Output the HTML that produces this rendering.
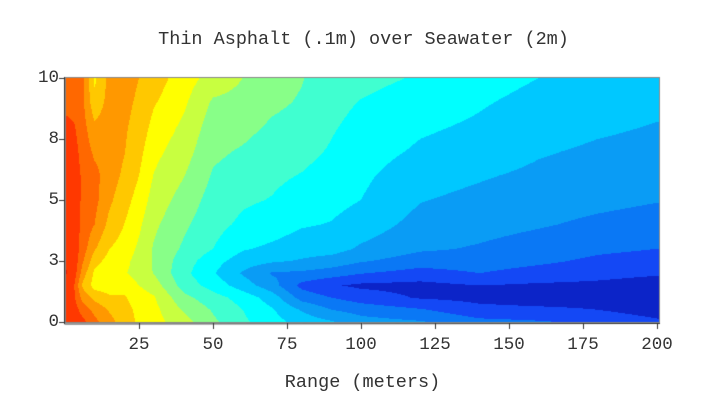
<!DOCTYPE html>
<html><head><meta charset="utf-8">
<style>
html,body{margin:0;padding:0;background:#fff;width:707px;height:408px;overflow:hidden}
#wrap{position:relative;width:707px;height:408px;font-family:"Liberation Mono",monospace;color:#333}
.t{position:absolute;white-space:nowrap;line-height:1}
canvas{position:absolute;left:0;top:0}
</style></head>
<body>
<div id="wrap">
<canvas id="cv" width="707" height="408"></canvas>
<div class="t" style="left:0;width:727px;text-align:center;top:31px;font-size:18.5px">Thin Asphalt (.1m) over Seawater (2m)</div>
<div class="t" style="left:0;width:725px;text-align:center;top:374px;font-size:18.5px">Range (meters)</div>
<div id="labels"></div>
</div>
<script>
const xTicks=[25,50,75,100,125,150,175,200];
const yTicks=[0,2.5,5,7.5,10];
const yTickLabels=["0","3","5","8","10"];
const gridX=[0,3,6,10,15,20,25,30,40,50,60,70,80,90,100,120,140,160,180,200];
const gridY=[0,0.5,1,1.5,2,2.5,3,4,5,6,7,8,9,10];
const gridVals=[
[13.4,13.5,13.3,12.3,11.3,10.6,9.8,9.4,8.4,7.2,6.2,5.4,4.6,4.1,3.4,3.1,2.3,2.1,1.8,1.2],
[13.6,13.5,12.6,11.7,10.9,10.4,9.7,9.3,7.9,6.9,6.0,5.1,3.9,3.0,2.6,2.1,1.3,1.2,1.0,0.5],
[13.8,13.2,11.6,10.7,10.2,10.1,9.5,9.1,7.3,6.4,5.6,4.5,2.6,2.0,1.5,0.9,0.7,0.5,0.6,0.4],
[14.0,13.1,10.8,9.6,9.4,9.6,9.0,8.5,6.6,5.6,4.5,3.4,1.7,1.1,0.8,0.7,1.0,0.85,0.8,0.6],
[14.1,13.6,11.5,9.8,9.3,9.1,8.6,7.95,6.3,5.1,3.9,2.9,2.8,2.5,2.05,1.6,2.0,1.6,1.3,1.1],
[14.0,13.7,12.1,10.4,9.6,9.3,8.6,7.9,6.5,5.4,4.5,4.15,3.9,3.6,3.1,2.5,2.5,2.2,1.8,1.6],
[13.9,13.7,12.5,11.1,10.0,9.6,8.8,7.9,6.85,6.0,5.1,4.8,4.45,4.4,3.85,3.15,2.9,2.55,2.2,2.0],
[13.8,13.6,12.7,12.0,10.7,10.0,9.2,8.2,7.2,6.35,5.8,5.5,5.1,4.95,4.55,3.65,3.35,3.1,2.8,2.6],
[13.7,13.6,12.8,12.3,11.2,10.4,9.6,8.6,7.6,6.6,6.15,5.95,5.55,5.3,5.0,4.05,3.75,3.45,3.25,3.05],
[13.6,13.6,12.8,12.3,11.5,10.8,10.0,8.95,8.05,6.9,6.55,6.2,5.95,5.6,5.2,4.4,4.1,3.8,3.6,3.4],
[13.5,13.4,12.6,11.8,11.6,11.05,10.3,9.3,8.45,7.2,6.9,6.5,6.3,5.9,5.45,4.85,4.55,4.1,3.85,3.7],
[13.3,13.1,12.4,11.2,11.6,11.15,10.6,9.7,8.8,7.5,7.3,6.85,6.65,6.1,5.7,5.15,4.85,4.45,4.15,3.95],
[12.7,12.6,12.2,10.3,11.4,11.3,10.8,10.1,9.2,7.85,7.7,7.2,6.9,6.3,5.95,5.5,5.1,4.7,4.35,4.2],
[12.5,12.4,12.2,9.8,11.3,11.5,11.0,10.5,9.5,8.6,8.0,7.45,7.05,6.5,6.3,5.9,5.4,5.0,4.6,4.4]
];
const levelColors=["#0c24c8","#1448f5","#0a78f5","#0a9cf5","#00c8ff","#00ffff","#40ffd0","#88ff88","#c8ff40","#ffff00","#ffc800","#ff9800","#ff6800","#ff3800","#e81800"];

const L=65,R=660,T=77,B=323;
function X(v){return 65+v*2.96;}
function Y(v){return 322-v*24.4;}
function invX(p){return (p-65)/2.96;}
function invY(p){return (322-p)/24.4;}
function seg(arr,v){let i=0;while(i<arr.length-2&&v>arr[i+1])i++;return i;}
function val(x,y){
  x=Math.max(0,Math.min(200,x));y=Math.max(0,Math.min(10,y));
  const i=seg(gridX,x),j=seg(gridY,y);
  const tx=(x-gridX[i])/(gridX[i+1]-gridX[i]),ty=(y-gridY[j])/(gridY[j+1]-gridY[j]);
  const a=gridVals[j][i],b=gridVals[j][i+1],c=gridVals[j+1][i],d=gridVals[j+1][i+1];
  return (a*(1-tx)+b*tx)*(1-ty)+(c*(1-tx)+d*tx)*ty;
}
function hex(h){return [parseInt(h.substr(1,2),16),parseInt(h.substr(3,2),16),parseInt(h.substr(5,2),16)];}
const rgb=levelColors.map(hex);
const cv=document.getElementById('cv');const ctx=cv.getContext('2d');
const w=R-L,h=B-T;const img=ctx.createImageData(w,h);
for(let py=0;py<h;py++){for(let px=0;px<w;px++){
  let v=val(invX(L+px+0.5),invY(T+py+0.5));
  let k=Math.max(0,Math.min(levelColors.length-1,Math.floor(v)));
  const c=rgb[k],o=(py*w+px)*4;img.data[o]=c[0];img.data[o+1]=c[1];img.data[o+2]=c[2];img.data[o+3]=255;}}
ctx.putImageData(img,L,T);
ctx.strokeStyle="#888";ctx.lineWidth=1;
ctx.strokeRect(L+0.5,T+0.5,w-1,h-1);
ctx.strokeStyle="#333";
ctx.beginPath();ctx.moveTo(L-0.5,T);ctx.lineTo(L-0.5,B+1);ctx.lineTo(R,B+0.5);ctx.stroke();
const lab=document.getElementById('labels');
yTicks.forEach((t,i)=>{
  const y=Math.round(Y(t))+0.5;
  ctx.beginPath();ctx.moveTo(L-6,y);ctx.lineTo(L,y);ctx.stroke();
  const d=document.createElement('div');d.className='t';
  
  
  d.style.cssText='right:'+(707-59)+'px;top:'+(Y(t)-8)+'px;font-size:17.5px';
  d.textContent=yTickLabels[i];lab.appendChild(d);
});
xTicks.forEach(t=>{
  const x=Math.round(X(t))+0.5;
  ctx.beginPath();ctx.moveTo(x,B);ctx.lineTo(x,B+6);ctx.stroke();
  const d=document.createElement('div');d.className='t';
  
  
  d.style.cssText='left:'+(X(t)-30)+'px;width:60px;text-align:center;top:337px;font-size:17.5px';
  d.textContent=String(t);lab.appendChild(d);
});
</script>
</body></html>
